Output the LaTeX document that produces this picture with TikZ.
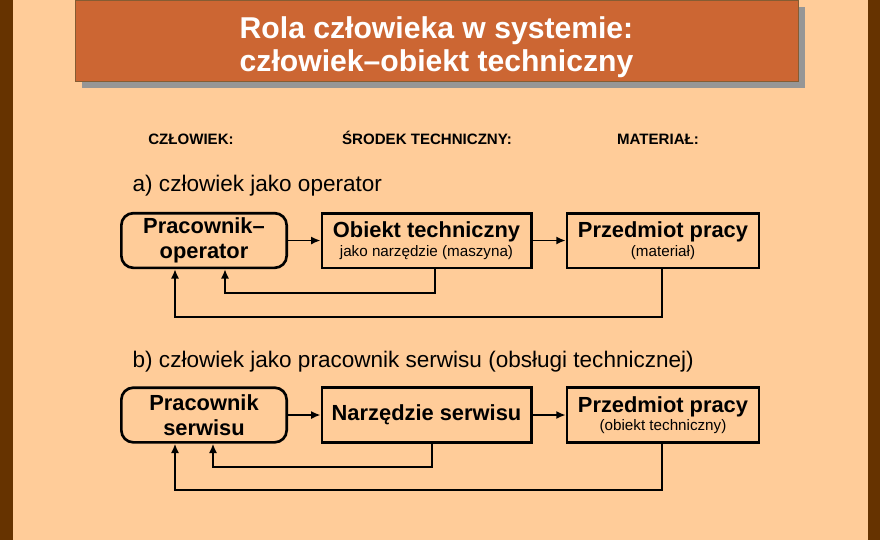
\documentclass[tikz,border=0pt]{standalone}
\usepackage{fontspec}
\setmainfont{Liberation Sans}
\usetikzlibrary{positioning, arrows.meta}
\definecolor{kpeach}{RGB}{255,204,153}
\definecolor{kbrown}{RGB}{102,51,0}
\definecolor{kochre}{RGB}{204,102,51}
\definecolor{kshadow}{RGB}{150,150,150}
\tikzset{
    blok/.style={draw, line width=2pt, minimum height=41pt, inner sep=1pt, align=center, fill=kpeach},
    czlowiek/.style={blok, rounded corners=9pt, minimum width=124pt},
    srodek/.style={blok, minimum width=157pt},
    material/.style={blok, minimum width=144pt},
    strzalka/.style={line width=1.3pt, -{Latex[length=7pt,width=6pt]}},
    naglowek/.style={anchor=base, font=\fontsize{11.3pt}{13pt}\selectfont\bfseries},
    duzy/.style={font=\fontsize{16.4pt}{18.5pt}\selectfont\bfseries},
    maly/.style={font=\fontsize{11.4pt}{13pt}\selectfont}
}
\begin{document}
\begin{tikzpicture}[x=0.75pt, y=-0.75pt]
        % background
        \fill[kpeach] (0,0) rectangle (880,540);
        \fill[kbrown] (0,0) rectangle (13,540);
        \fill[kbrown] (868,0) rectangle (880,540);
        \useasboundingbox (0,0) rectangle (880,540);

        % title
        \fill[kshadow] (82,7) rectangle (805,88);
        \draw[fill=kochre, draw=kbrown!80, line width=0.6pt] (75,0) rectangle (798,81);
        \node[text=white, font=\fontsize{22.6pt}{25pt}\selectfont\bfseries, align=center] (tytul) at (436.5,47)
            {Rola człowieka w systemie:\\człowiek–obiekt techniczny};

        % column headers
        \node[naglowek] (hc) at (191,144) {CZŁOWIEK:};
        \node[naglowek] (hs) at (427,144) {ŚRODEK TECHNICZNY:};
        \node[naglowek] (hm) at (658,144) {MATERIAŁ:};

        % a) operator
        \node[anchor=west, font=\fontsize{16.9pt}{18pt}\selectfont] (la) at (128,186) {a) człowiek jako operator};
        \node[czlowiek, duzy] (a1) at (204,240.5) {Pracownik–\\operator};
        \node[srodek] (a2) at (426.5,240.5) {{\fontsize{16.4pt}{18pt}\selectfont\bfseries Obiekt techniczny}\\[2pt]{\fontsize{11.4pt}{13pt}\selectfont jako narzędzie (maszyna)}};
        \node[material] (a3) at (663,240.5) {{\fontsize{16.4pt}{18pt}\selectfont\bfseries Przedmiot pracy}\\[2pt]{\fontsize{11.4pt}{13pt}\selectfont (materiał)}};
        \draw[strzalka] (a1) -- (a2);
        \draw[strzalka] (a2) -- (a3);
        \draw[strzalka] (a2.south -| 435,0) |- (225,293) -- (a1.south -| 225,0);
        \draw[strzalka] (a3.south -| 662,0) |- (175,317) -- (a1.south -| 175,0);

        % b) service
        \node[anchor=west, font=\fontsize{16.9pt}{18pt}\selectfont] (lb) at (128,362) {b) człowiek jako pracownik serwisu (obsługi technicznej)};
        \node[czlowiek, duzy] (b1) at (204,415) {Pracownik\\serwisu};
        \node[srodek, duzy] (b2) at (426.5,415) {Narzędzie serwisu};
        \node[material] (b3) at (663,415) {{\fontsize{16.4pt}{18pt}\selectfont\bfseries Przedmiot pracy}\\[2pt]{\fontsize{11.4pt}{13pt}\selectfont (obiekt techniczny)}};
        \draw[strzalka] (b1) -- (b2);
        \draw[strzalka] (b2) -- (b3);
        \draw[strzalka] (b2.south -| 432,0) |- (213,467) -- (b1.south -| 213,0);
        \draw[strzalka] (b3.south -| 662,0) |- (175,490) -- (b1.south -| 175,0);
\end{tikzpicture}
\end{document}
